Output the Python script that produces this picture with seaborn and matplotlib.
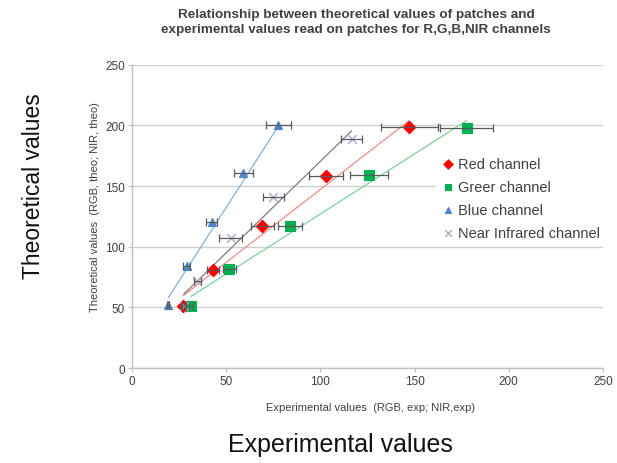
import numpy as np
import pandas as pd
import matplotlib
matplotlib.use("Agg")
import matplotlib.pyplot as plt
import seaborn as sns

# Patch readings: experimental value (x), theoretical value (y), x-error
red_x = [27.2, 43.2, 69.2, 102.8, 147.2]
red_y = [51, 81, 117, 158, 199]
red_err = [1.0, 3.2, 6.0, 9.0, 15.0]

green_x = [31.3, 51.7, 84.0, 125.8, 177.6]
green_y = [51, 82, 117, 159, 198]
green_err = [1.0, 3.4, 6.3, 10.0, 14.0]

blue_x = [19.3, 29.0, 42.3, 59.1, 77.7]
blue_y = [52, 84, 120, 161, 200]
blue_err = [0.5, 2.0, 2.8, 5.1, 6.8]

nir_x = [27.5, 34.7, 52.4, 75.0, 116.6]
nir_y = [51, 72, 107, 141, 189]
nir_err = [1.0, 2.0, 6.1, 5.6, 5.5]

# Linear trendlines (slope, intercept) per channel
trend_slope = {"red": 1.203, "green": 0.99, "blue": 2.42, "nir": 1.51}
trend_icpt = {"red": 26.9, "green": 28.0, "blue": 11.3, "nir": 19.4}

labels = ["Red channel", "Greer channel", "Blue channel", "Near Infrared channel"]
ticks = [0, 50, 100, 150, 200, 250]

sns.set_style("white")
plt.rcParams["font.family"] = ["Liberation Sans", "DejaVu Sans"]

fig = plt.figure(figsize=(6.17, 4.64), dpi=100)
ax = fig.add_axes([0.2139, 0.2047, 0.7634, 0.6537])

series = [
    ("red", red_x, red_y, red_err, "D", "#ff0000", "#f08a8a", 40, labels[0]),
    ("green", green_x, green_y, green_err, "s", "#00b050", "#7fcf9f", 42, labels[1]),
    ("blue", blue_x, blue_y, blue_err, "^", "#4a86c8", "#7fb2dc", 34, labels[2]),
    ("nir", nir_x, nir_y, nir_err, "x", "#b4b4d0", "#7f7f7f", 40, labels[3]),
]

# trendlines
for key, xs, ys, err, mk, col, lcol, size, lab in series:
    xr = np.array([min(xs), max(xs)])
    yr = trend_slope[key] * xr + trend_icpt[key]
    sns.lineplot(x=xr, y=yr, color=lcol, linewidth=0.9, ax=ax, zorder=2)

# markers
for key, xs, ys, err, mk, col, lcol, size, lab in series:
    df = pd.DataFrame({"x": xs, "y": ys})
    kw = dict(edgecolor=col, linewidth=0.8) if mk != "x" else dict(linewidth=1.2)
    sns.scatterplot(data=df, x="x", y="y", marker=mk, color=col, s=size,
                    ax=ax, zorder=3, label=lab, **kw)

# horizontal error bars
for key, xs, ys, err, mk, col, lcol, size, lab in series:
    ax.errorbar(xs, ys, xerr=err, fmt="none", ecolor="#595959",
                elinewidth=0.9, capsize=3, capthick=0.9, zorder=4)

ax.set_xlim(0, 250)
ax.set_ylim(0, 250)
ax.set_xticks(ticks)
ax.set_yticks(ticks)
ax.set_xlabel("")
ax.set_ylabel("")
ax.yaxis.grid(True, color="#d0d0d0", linewidth=1.0)
ax.xaxis.grid(False)
ax.set_axisbelow(True)
for s in ["top", "right"]:
    ax.spines[s].set_visible(False)
for s in ["left", "bottom"]:
    ax.spines[s].set_color("#c0c0c0")
    ax.spines[s].set_linewidth(1.0)
ax.tick_params(axis="both", labelsize=8.5, labelcolor="#404040",
               length=3, color="#c0c0c0", width=0.8, pad=2)
ax.tick_params(axis="both", which="both", bottom=True, left=True)

leg = ax.legend(loc="upper left", bbox_to_anchor=(0.695, 0.688),
                bbox_transform=fig.transFigure, frameon=True,
                facecolor="white", edgecolor="none", framealpha=1.0,
                fontsize=10.5, labelspacing=0.62, handlelength=0.8,
                handletextpad=0.3, markerscale=0.75, borderpad=0.4)
for t in leg.get_texts():
    t.set_color("#404040")

fig.text(0.577, 0.952,
         "Relationship between theoretical values of patches and\n"
         "experimental values read on patches for R,G,B,NIR channels",
         ha="center", va="center", fontsize=9.7, fontweight="bold",
         color="#404040", linespacing=1.3)

fig.text(0.601, 0.1207, "Experimental values  (RGB, exp; NIR,exp)",
         ha="center", va="center", fontsize=8, color="#404040")
fig.text(0.154, 0.554, "Theoretical values  (RGB, theo; NIR, theo)",
         ha="center", va="center", rotation=90, fontsize=8, color="#404040")

fig.text(0.551, 0.041, "Experimental values", ha="center", va="center",
         fontsize=18, color="#111111")
fig.text(0.054, 0.599, "Theoretical values", ha="center", va="center",
         rotation=90, fontsize=16.5, color="#111111")

fig.savefig("out.png", dpi=100, facecolor="white")
